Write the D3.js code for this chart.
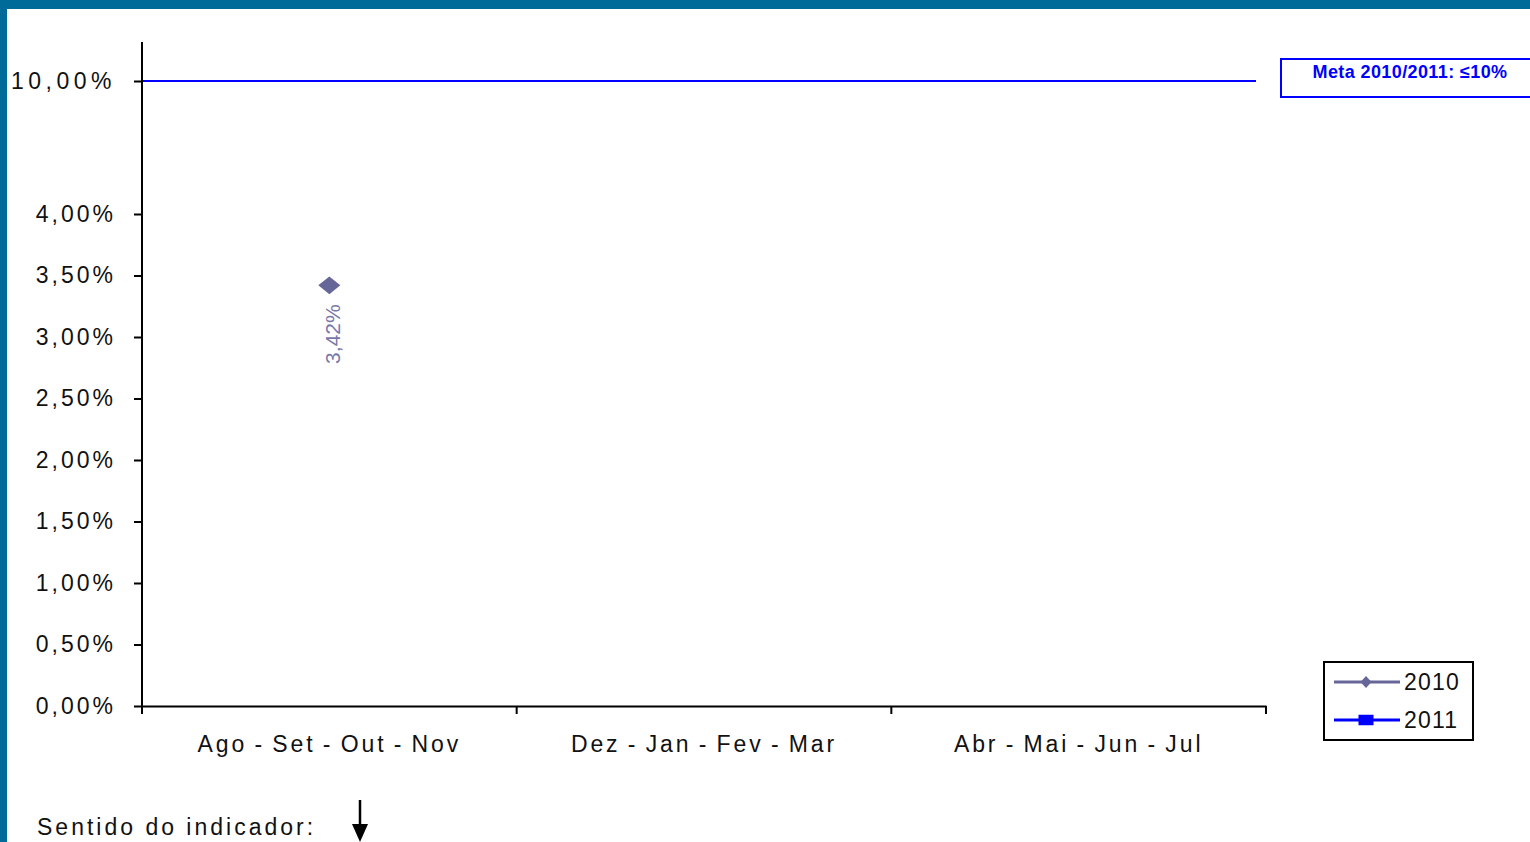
<!DOCTYPE html>
<html>
<head>
<meta charset="utf-8">
<script src="https://cdn.jsdelivr.net/npm/d3@7"></script>
<style>
  html, body { margin: 0; padding: 0; background: #fff; }
  svg { display: block; }
  text { font-family: "Liberation Sans", Arial, sans-serif; }
</style>
</head>
<body>
<svg id="chart" width="1530" height="842"></svg>
<script>
// dados
const periods = ["Ago - Set - Out - Nov", "Dez - Jan - Fev - Mar", "Abr - Mai - Jun - Jul"]
const values2010 = [3.42, null, null]
const values2011 = [null, null, null]
const meta = 10
const yTicks = [0, 0.5, 1, 1.5, 2, 2.5, 3, 3.5, 4, 10]
const legendNames = ["2010", "2011"]
const metaLabel = "Meta 2010/2011: \u226410%"

const pt = d3.formatLocale({ decimal: ",", thousands: ".", grouping: [3], currency: ["R$", ""] })
const fmt = (d) => pt.format(".2f")(d) + "%"

let svg = d3.select("#chart")

// moldura azul
svg.append("rect").attr("x", 0).attr("y", 0).attr("width", 1530).attr("height", 9).attr("fill", "#006a99")
svg.append("rect").attr("x", 0).attr("y", 0).attr("width", 7).attr("height", 842).attr("fill", "#006a99")

// eixo quebrado: 0-4% linear, depois salta para 10%
let y = d3.scaleLinear().domain([0, 4, 10]).range([706, 214, 81])
let x = d3.scaleBand().domain(periods).range([142, 1266])

// linha da meta
svg.append("line")
    .attr("x1", 142).attr("x2", 1256)
    .attr("y1", y(meta)).attr("y2", y(meta))
    .attr("stroke", "#0000ff").attr("stroke-width", 2)

let yAxis = svg.append("g")
    .attr("transform", "translate(142,0)")
    .call(d3.axisLeft(y).tickValues(yTicks).tickFormat(fmt).tickSize(8).tickSizeOuter(0))
yAxis.select(".domain").remove()
yAxis.selectAll("line").attr("stroke", "#000").attr("stroke-width", 2)
yAxis.selectAll("text")
    .attr("x", -26)
    .attr("fill", "#111")
    .style("font-size", "23px")
    .style("letter-spacing", (d) => (d == 10 ? "4.5px" : "3px"))
yAxis.append("line")
    .attr("x1", 0).attr("x2", 0)
    .attr("y1", 42).attr("y2", y(0) + 6)
    .attr("stroke", "#000").attr("stroke-width", 2)

let xAxis = svg.append("g")
    .attr("transform", "translate(0," + y(0) + ")")
    .call(d3.axisBottom(x).tickSize(0).tickSizeOuter(0))
xAxis.select(".domain").attr("stroke", "#000").attr("stroke-width", 2)
xAxis.selectAll("text")
    .attr("y", 30)
    .attr("fill", "#111")
    .style("font-size", "23px")
    .style("letter-spacing", "2.9px")
    .style("word-spacing", "-2px")

// marcas entre as categorias
svg.append("g").selectAll("line")
    .data(periods.concat([null]))
    .enter()
    .append("line")
    .attr("x1", (d, i) => 142 + i * x.bandwidth())
    .attr("x2", (d, i) => 142 + i * x.bandwidth())
    .attr("y1", y(0))
    .attr("y2", y(0) + 8)
    .attr("stroke", "#000").attr("stroke-width", 2)

// losango mais largo que alto, como no Excel
let diamond = d3.symbol().type(d3.symbolSquare).size(220)
let square = d3.symbol().type(d3.symbolSquare).size(100)

// série 2010
let pts2010 = periods.map((p, i) => ({ p: p, v: values2010[i] })).filter((d) => d.v != null)
svg.append("g").selectAll("path")
    .data(pts2010)
    .enter()
    .append("path")
    .attr("d", diamond)
    .attr("transform", (d) => "translate(" + (x(d.p) + x.bandwidth() / 2) + "," + y(d.v) + ") scale(1.05,0.85) rotate(45)")
    .attr("fill", "#666699")

svg.append("g").selectAll("text")
    .data(pts2010)
    .enter()
    .append("text")
    .attr("transform", (d) => "translate(" + (x(d.p) + x.bandwidth() / 2 + 11) + "," + (y(d.v) + 19) + ") rotate(-90)")
    .attr("text-anchor", "end")
    .attr("fill", "#7878aa")
    .style("font-size", "21px")
    .text((d) => fmt(d.v))

// série 2011 (sem dados)
let pts2011 = periods.map((p, i) => ({ p: p, v: values2011[i] })).filter((d) => d.v != null)
svg.append("g").selectAll("path")
    .data(pts2011)
    .enter()
    .append("path")
    .attr("d", square)
    .attr("transform", (d) => "translate(" + (x(d.p) + x.bandwidth() / 2) + "," + y(d.v) + ")")
    .attr("fill", "#0000ff")

// caixa da meta
svg.append("rect")
    .attr("x", 1281).attr("y", 59).attr("width", 260).attr("height", 38)
    .attr("fill", "#fff").attr("stroke", "#0000ff").attr("stroke-width", 2)
svg.append("text")
    .attr("x", 1410).attr("y", 78)
    .attr("text-anchor", "middle")
    .attr("fill", "#0000ff")
    .style("font-size", "18px")
    .style("font-weight", "bold")
    .style("letter-spacing", "0.4px")
    .text(metaLabel)

// legenda
let legend = svg.append("g")
legend.append("rect")
    .attr("x", 1324).attr("y", 662).attr("width", 149).attr("height", 78)
    .attr("fill", "#fff").attr("stroke", "#000").attr("stroke-width", 2)
let legColors = ["#666699", "#0000ff"]
let legItems = legend.selectAll("g.item")
    .data(legendNames)
    .enter()
    .append("g")
    .attr("class", "item")
    .attr("transform", (d, i) => "translate(0," + (682 + i * 38) + ")")
legItems.append("line")
    .attr("x1", 1334).attr("x2", 1400)
    .attr("stroke", (d, i) => legColors[i]).attr("stroke-width", 3)
legItems.append("path")
    .attr("d", (d, i) => (i == 0 ? d3.symbol().type(d3.symbolSquare).size(60)() : square()))
    .attr("transform", (d, i) => "translate(1366,0)" + (i == 0 ? " scale(1,1.1) rotate(45)" : " scale(1.5,1.05)"))
    .attr("fill", (d, i) => legColors[i])
legItems.append("text")
    .attr("x", 1404).attr("y", 8)
    .attr("fill", "#111")
    .style("font-size", "23px")
    .style("letter-spacing", "1.2px")
    .text((d) => d)

// sentido do indicador
svg.append("text")
    .attr("x", 37).attr("y", 835)
    .attr("fill", "#111")
    .style("font-size", "23px")
    .style("letter-spacing", "3px")
    .text("Sentido do indicador:")
svg.append("line")
    .attr("x1", 360).attr("x2", 360).attr("y1", 800).attr("y2", 828)
    .attr("stroke", "#000").attr("stroke-width", 2.5)
svg.append("path")
    .attr("d", "M352,824 L368,824 L360,842 Z")
    .attr("fill", "#000")
</script>
</body>
</html>
